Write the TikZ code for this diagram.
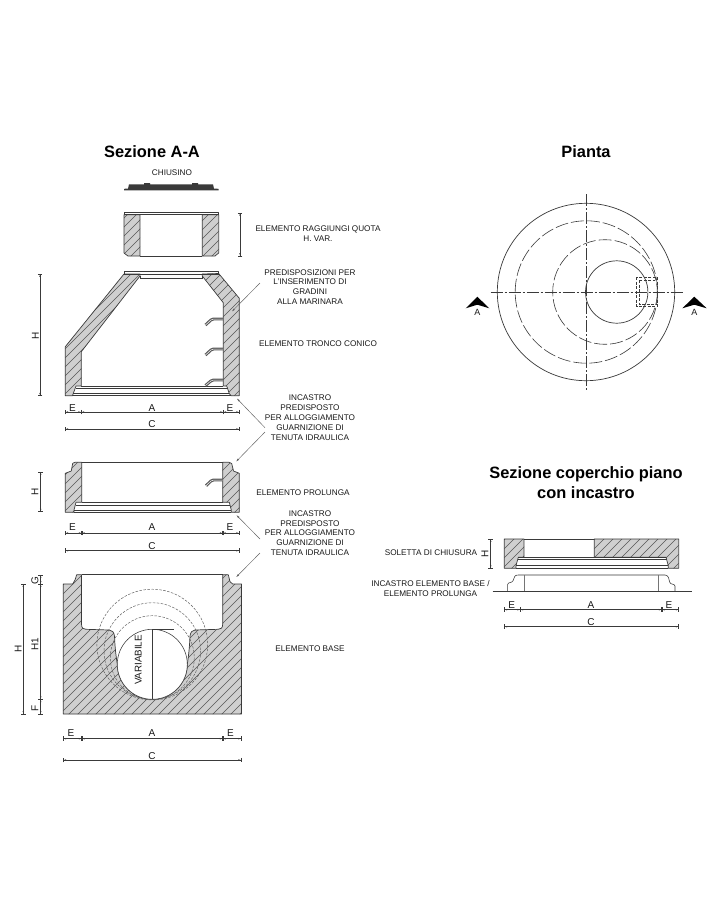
\documentclass[tikz,border=0pt]{standalone}
\usepackage{fontspec}
\setmainfont{Liberation Sans}
\usetikzlibrary{arrows.meta}
\definecolor{ink}{HTML}{3A3A3A}
\definecolor{hatchfill}{HTML}{CFCFCF}
\definecolor{hatchline}{HTML}{555555}
\newcommand{\hatchedshape}[1]{%
  \begin{scope}
    \clip #1;
    \fill[hatchfill] #1;
    \foreach \k in {306,315,...,1350}{\draw[hatchline,line width=0.4pt] (\k,0) -- (0,\k);}
  \end{scope}
  \draw[outline] #1;}
\tikzset{
  x=1pt,y=-1pt,
  outline/.style={draw=ink,line width=0.7pt,line join=round},
  thinline/.style={draw=ink,line width=0.55pt},
  heavyline/.style={draw=ink,line width=0.9pt},
  dimline/.style={draw=ink,line width=0.5pt,{Bar[width=4.5pt]Latex[length=2.4pt,width=1.5pt]}-{Latex[length=2.4pt,width=1.5pt]Bar[width=4.5pt]}},
  leader/.style={draw=ink!80,line width=0.45pt,-{Latex[length=3.5pt,width=1.8pt]}},
  bigtitle/.style={font=\bfseries\fontsize{16.4}{20}\selectfont,text=black,align=center,inner sep=0pt},
  note/.style={font=\fontsize{8.2}{9.8}\selectfont,text=black!90,align=center,inner sep=0pt},
  dimlab/.style={font=\fontsize{10}{10}\selectfont,text=black!90,inner sep=0pt},
  dimlabv/.style={dimlab,rotate=90},
  rung/.style={draw=ink!85,line width=1.2pt,double=white,double distance=0.5pt,rounded corners=1.5pt},
  hidden/.style={draw=ink!85,line width=0.45pt,dash pattern=on 2.6pt off 1.4pt},
  planhidden/.style={draw=ink,line width=0.6pt,dash pattern=on 13pt off 3pt},
  boxhidden/.style={draw=ink,line width=0.5pt,dash pattern=on 3pt off 1.5pt},
  axisline/.style={draw=ink,line width=0.55pt,dash pattern=on 12pt off 2pt on 2pt off 2pt},
}
\begin{document}
\begin{tikzpicture}
\useasboundingbox[fill=white] (0,0) rectangle (720,900);

% titles
\node[bigtitle] (t1) at (152,152) {Sezione A-A};
\node[bigtitle] (t2) at (586,152) {Pianta};
\node[bigtitle] (t3) at (586,483) {Sezione coperchio piano\\con incastro};

% CHIUSINO
\node[note] (chi) at (172,173) {CHIUSINO};
\fill[ink] (124,190.4) -- (124,188.8) -- (128,188.6) -- (129,184.4) -- (144,184.4) -- (144,183) -- (150,183) -- (150,184.4) -- (192,184.4) -- (192,183) -- (198,183) -- (198,184.4) -- (213,184.4) -- (214,188.6) -- (218.7,188.8) -- (218.7,190.4) -- cycle;

% raccordo
\hatchedshape{(124,214.7) -- (140,214.7) -- (140,256) -- (128,256) -- (124,253) -- cycle}
\hatchedshape{(202.3,214.7) -- (218.7,214.7) -- (218.7,253) -- (215,256) -- (202.3,256) -- cycle}
\draw[outline] (124,214.7) -- (124,212.7) -- (218.7,212.7) -- (218.7,214.7);
\draw[thinline] (124,214.7) -- (218.7,214.7);
\draw[outline] (140,256) -- (202.3,256);
\draw[dimline] (240,212.7) -- (240,256);

% tronco conico
\hatchedshape{(65.3,395.7) -- (65.3,346.7) -- (124,274) -- (140,274) -- (140,276) -- (81.3,351.7) -- (81.3,386) -- (76,386) -- (73.3,393.5) -- (72.5,395.7) -- cycle}
\hatchedshape{(202.3,274) -- (218.7,273.5) -- (239.3,298.3) -- (239.3,395.7) -- (231,395.7) -- (229.3,393.5) -- (226.7,386) -- (223.3,386) -- (223.3,302.7) -- (202.3,276) -- cycle}
\draw[outline] (124,274) -- (124,271.7) -- (218.7,271.7) -- (218.7,273.5);
\draw[thinline] (124,274) -- (218.7,274);
\draw[thinline] (140,276) -- (140,278.3) -- (202.3,278.3) -- (202.3,276);
\draw[outline] (81.3,386) -- (223.3,386);
\draw[thinline] (76,388.2) -- (228,388.2);
\draw[heavyline] (73.3,393.5) -- (229.3,393.5);
\draw[outline] (72.5,395.7) -- (231,395.7);
\draw[rung] (223,319) -- (212,319) -- (205.5,325);
\draw[rung] (223,349) -- (212,349) -- (205.5,355);
\draw[rung] (223,380) -- (212,380) -- (205.5,385.5);
\draw[dimline] (40,274) -- (40,395.7);
\node[dimlabv] (h1) at (35.5,336) {H};
\draw[dimline] (65.3,412) -- (81.3,412);
\draw[dimline] (81.3,412) -- (223.3,412);
\draw[dimline] (223.3,412) -- (239.3,412);
\draw[dimline] (65.3,429) -- (239.3,429);
\node[dimlab] (e1) at (72.5,407.7) {E};
\node[dimlab] (a1) at (152,407.7) {A};
\node[dimlab] (e2) at (230,407.7) {E};
\node[dimlab] (c1) at (152,424.3) {C};

% prolunga
\hatchedshape{(65.3,512.3) -- (65.3,473.3) -- (71.3,471) -- (72.7,463.3) -- (75,462.3) -- (81.7,462.3) -- (81.7,502.3) -- (76,502.3) -- (74,510) -- (74,512.3) -- cycle}
\hatchedshape{(222.7,462.3) -- (229,462.3) -- (231.7,463.5) -- (233.5,471) -- (239.3,473.3) -- (239.3,512.3) -- (231.3,512.3) -- (231.3,510) -- (229.3,502.3) -- (222.7,502.3) -- cycle}
\draw[outline] (81.7,462.3) -- (222.7,462.3);
\draw[outline] (81.7,502.3) -- (222.7,502.3);
\draw[thinline] (75.5,505) -- (230,505);
\draw[heavyline] (74,510) -- (231.3,510);
\draw[outline] (74,512.3) -- (231.3,512.3);
\draw[rung] (222.5,480) -- (212,480) -- (206,485.7);
\draw[dimline] (40.7,471.7) -- (40.7,511.7);
\node[dimlabv] (h2) at (35,491.7) {H};
\draw[dimline] (65.3,533) -- (81.7,533);
\draw[dimline] (81.7,533) -- (222.7,533);
\draw[dimline] (222.7,533) -- (239.3,533);
\draw[dimline] (65.3,550.7) -- (239.3,550.7);
\node[dimlab] (e3) at (72.5,527.3) {E};
\node[dimlab] (a2) at (152,527.3) {A};
\node[dimlab] (e4) at (230,527.3) {E};
\node[dimlab] (c2) at (152,545.7) {C};

% base
\hatchedshape{(63.3,714) -- (63.3,584) -- (72.7,584) -- (75,580) -- (76.7,574.7) -- (81.5,574.7) -- (81.5,624) .. controls (81.5,628) and (83,629.3) .. (86,629.3) -- (109,630) .. controls (112,630) and (114,632) .. (114.5,636) .. controls (115,648) and (116,656) .. (117.3,664.3) -- plot[domain=180:360,samples=40] ({152.3+35*cos(\x)},{664.3-35*sin(\x)}) .. controls (188.5,656) and (189.5,648) .. (190,636) .. controls (190.5,632) and (192.5,630) .. (195,630) -- (218,629.3) .. controls (221,629.3) and (222.7,628) .. (222.7,624) -- (222.7,574.7) -- (228.3,574.7) -- (230,581.7) -- (232.7,584) -- (241.5,584) -- (241.5,714) -- cycle}
\draw[outline] (81.5,574.7) -- (222.7,574.7);
\draw[hidden] (152.3,644.6) circle[radius=55.4];
\draw[hidden] (152.3,651) circle[radius=48.3];
\draw[hidden] (152.3,657.7) circle[radius=42];
\fill[white] (152.3,664.3) circle[radius=35];
\draw[thinline] (152.3,664.3) circle[radius=35];
\draw[thinline] (151.7,629.3) -- (174,629.3);
\draw[thinline] (152.3,629.3) -- (152.3,699.3);
\node[font=\fontsize{9.8}{10}\selectfont,text=black!90,rotate=90,inner sep=0pt] (var) at (138.3,660) {VARIABILE};
\draw[dimline] (23.3,584) -- (23.3,714);
\node[dimlabv] (h3) at (18.3,649.3) {H};
\draw[dimline] (40.7,574.7) -- (40.7,584);
\draw[dimline] (40.7,584) -- (40.7,699.3);
\draw[dimline] (40.7,699.3) -- (40.7,714);
\node[dimlabv] (g) at (35,580.7) {G};
\node[dimlabv] (h4) at (35,644) {H1};
\node[dimlabv] (f) at (35,708.3) {F};
\draw[dimline] (63.3,738.7) -- (81.7,738.7);
\draw[dimline] (81.7,738.7) -- (222.7,738.7);
\draw[dimline] (222.7,738.7) -- (241.3,738.7);
\draw[dimline] (63.3,760) -- (241.3,760);
\node[dimlab] (e5) at (71,733.3) {E};
\node[dimlab] (a3) at (152,733.3) {A};
\node[dimlab] (e6) at (230.5,733.3) {E};
\node[dimlab] (c3) at (152,755.7) {C};

% notes
\node[note] (n1) at (318,234) {ELEMENTO RAGGIUNGI QUOTA\\H. VAR.};
\node[note] (n2) at (310,287) {PREDISPOSIZIONI PER\\L'INSERIMENTO DI\\GRADINI\\ALLA MARINARA};
\node[note] (n3) at (318,344) {ELEMENTO TRONCO CONICO};
\node[note] (n4) at (310,417.7) {INCASTRO\\PREDISPOSTO\\PER  ALLOGGIAMENTO\\GUARNIZIONE DI\\TENUTA IDRAULICA};
\node[note] (n5) at (303,493) {ELEMENTO PROLUNGA};
\node[note] (n6) at (310,533) {INCASTRO\\PREDISPOSTO\\PER  ALLOGGIAMENTO\\GUARNIZIONE DI\\TENUTA IDRAULICA};
\node[note] (n7) at (310,649) {ELEMENTO BASE};
\node[note] (n8) at (431,552.3) {SOLETTA DI CHIUSURA};
\node[note] (n9) at (430.5,588.7) {INCASTRO ELEMENTO BASE /\\ELEMENTO PROLUNGA};

% leaders
\coordinate (p1) at (260,283);
\coordinate (p1t) at (231.7,311.7);
\coordinate (p2) at (265,427.7);
\coordinate (p2t) at (236.7,398.3);
\coordinate (p3) at (265,432);
\coordinate (p3t) at (236,461.7);
\coordinate (p4) at (260,539);
\coordinate (p4t) at (236.3,515);
\coordinate (p5) at (260,553);
\coordinate (p5t) at (236,577.3);
\draw[leader] (p1) -- (p1t);
\draw[leader] (p2) -- (p2t);
\draw[leader] (p3) -- (p3t);
\draw[leader] (p4) -- (p4t);
\draw[leader] (p5) -- (p5t);

% pianta
\draw[thinline,line width=0.7pt] (586,292) circle[radius=88.7];
\draw[planhidden] (586.4,292) circle[radius=71.2];
\draw[planhidden] (605,292) circle[radius=52.3];
\draw[thinline,line width=0.7pt] (616.7,292) circle[radius=31.2];
\draw[axisline] (490.7,292) -- (683.3,292);
\draw[axisline] (586,194) -- (586,390);
\draw[boxhidden] (636.7,277.3) rectangle (657.3,306.7);
\draw[boxhidden] (639.3,280) -- (639.3,304) -- (655,304);
\draw[boxhidden] (639.3,280) -- (655,280);
\fill[black] (477.3,296.7) -- (465.7,308.3) -- (477.3,304.7) -- (489.3,308.3) -- cycle;
\fill[black] (694.3,296.7) -- (682.3,308.3) -- (694.3,304.7) -- (706.7,308.3) -- cycle;
\node[dimlab,font=\fontsize{9}{10}\selectfont] (sa) at (477.3,312.7) {A};
\node[dimlab,font=\fontsize{9}{10}\selectfont] (sb) at (694.3,312.7) {A};

% coperchio
\hatchedshape{(504.3,539) -- (524,539) -- (524,557.3) -- (518.3,557.3) -- (516,565.7) -- (516,568.3) -- (504.3,568.3) -- cycle}
\hatchedshape{(594.3,539) -- (678.7,539) -- (678.7,568.3) -- (668.3,568.3) -- (668.3,565.7) -- (666,557.3) -- (594.3,557.3) -- cycle}
\draw[outline] (524,539) -- (594.3,539);
\draw[outline] (518.3,557.3) -- (666,557.3);
\draw[thinline] (517.5,559.5) -- (667,559.5);
\draw[heavyline] (516,565.7) -- (668.3,565.7);
\draw[outline] (516,568.3) -- (668.3,568.3);
\draw[dimline] (490.7,539) -- (490.7,568.3);
\node[dimlabv] (h5) at (485,554) {H};

% incastro
\draw[thinline] (492.7,591.3) -- (691.7,591.3);
\draw[thinline,rounded corners=1pt] (507.7,591.3) -- (507.7,583.3) -- (512.7,581.7) -- (515,575.7) -- (517.3,575) -- (666,575) -- (668.3,576.7) -- (670,583.3) -- (675,585) -- (675,591.3);
\draw[outline,draw=ink!70] (524,575) -- (524,591.3);
\draw[outline,draw=ink!70] (658.7,575) -- (658.7,591.3);
\draw[dimline] (504.3,609.7) -- (520.3,609.7);
\draw[dimline] (520.3,609.7) -- (661.7,609.7);
\draw[dimline] (661.7,609.7) -- (678.7,609.7);
\draw[dimline] (504.3,626.7) -- (678.7,626.7);
\node[dimlab] (e7) at (511.7,605) {E};
\node[dimlab] (a4) at (591,605) {A};
\node[dimlab] (e8) at (669,605) {E};
\node[dimlab] (c4) at (591,622) {C};
\end{tikzpicture}
\end{document}
